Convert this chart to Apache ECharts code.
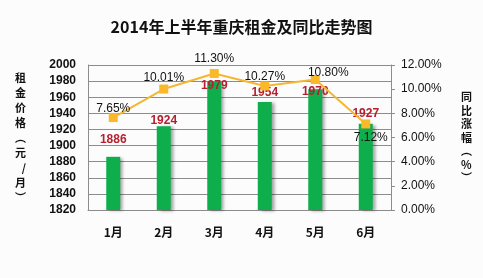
<!DOCTYPE html>
<html><head><meta charset="utf-8">
<script src="https://cdn.jsdelivr.net/npm/echarts@6/dist/echarts.min.js"></script>
<style>html,body{margin:0;padding:0;background:#fcfcfd;}#c{width:483px;height:278px;}</style>
</head><body><div id="c"></div>
<script>
var categories = ['1月','2月','3月','4月','5月','6月'];
var rentValues = [1886, 1924, 1979, 1954, 1970, 1927];
var yoyValues = [7.65, 10.01, 11.30, 10.27, 10.80, 7.12];
var leftTicks = [1820, 2000, 20];
var rightTicks = [0, 12, 2];

// label styling (offsets only, not data)
var barLabelDy = [-6, 5, 15, 2, 14, 1];
var lineLabelPos = ['top','top','top','top','top','bottom'];
var lineLabelDx = [0, 0, 0, 0, 13, 5];
var lineLabelDy = [5, 2, -1, 4, 7, 0];

var chart = echarts.init(document.getElementById('c'));
chart.setOption({
  backgroundColor: '#fcfcfd',
  animation: false,
  title: {
    text: '2014年上半年重庆租金及同比走势图',
    left: 'center', top: 14,
    textStyle: {fontFamily: 'Noto Sans CJK SC', fontSize: 16, fontWeight: 'bold', color: '#111'}
  },
  grid: {left: 88, right: 92, top: 65, bottom: 68},
  xAxis: {
    type: 'category', data: categories,
    axisLine: {lineStyle: {color: '#8c8c8c'}},
    axisTick: {show: false},
    axisLabel: {margin: 16, fontFamily: 'Noto Sans CJK SC', fontWeight: 'bold', fontSize: 12, color: '#111'}
  },
  yAxis: [{
    type: 'value', min: leftTicks[0], max: leftTicks[1], interval: leftTicks[2],
    name: '租\n金\n价\n格\n︵\n元\n/\n月\n︶',
    nameLocation: 'middle', nameGap: 62, nameRotate: 0,
    nameTextStyle: {fontFamily: 'Noto Sans CJK SC', fontWeight: 'bold', fontSize: 11, color: '#111', lineHeight: 15, padding: [22, 0, 0, 0]},
    axisLine: {show: true, lineStyle: {color: '#8c8c8c'}},
    axisTick: {show: false},
    splitLine: {lineStyle: {color: '#8c8c8c'}},
    axisLabel: {margin: 12, fontFamily: 'Liberation Sans', fontWeight: 'bold', fontSize: 12, color: '#111',
      formatter: function (v) { return String(v); }}
  }, {
    type: 'value', min: rightTicks[0], max: rightTicks[1], interval: rightTicks[2],
    name: '同\n比\n涨\n幅\n︵\n%\n︶',
    nameLocation: 'middle', nameGap: 70, nameRotate: 0,
    nameTextStyle: {fontFamily: 'Noto Sans CJK SC', fontWeight: 'bold', fontSize: 11, color: '#111', lineHeight: 13.5},
    axisLine: {show: true, lineStyle: {color: '#8c8c8c'}},
    axisTick: {show: true, length: 4, lineStyle: {color: '#8c8c8c'}},
    splitLine: {show: false},
    axisLabel: {margin: 10, fontFamily: 'Liberation Sans', fontSize: 12, color: '#111',
      formatter: function (v) { return v.toFixed(2) + '%'; }}
  }],
  series: [{
    type: 'bar', yAxisIndex: 0, barWidth: 14, z: 2,
    itemStyle: {color: '#0fae4d', shadowColor: 'rgba(0,0,0,0.35)', shadowOffsetX: 3, shadowOffsetY: 1, shadowBlur: 3},
    data: rentValues.map(function (v, i) {
      return {value: v, label: {show: true, position: 'top', distance: 5, offset: [0, barLabelDy[i]],
        fontFamily: 'Liberation Sans', fontWeight: 'bold', fontSize: 12, color: '#b5202e'}};
    })
  }, {
    type: 'line', yAxisIndex: 1, z: 3,
    symbol: 'rect', symbolSize: 9,
    lineStyle: {color: '#f5b731', width: 2},
    itemStyle: {color: '#fbb829'},
    data: yoyValues.map(function (v, i) {
      return {value: v, label: {show: true, position: lineLabelPos[i], distance: 3,
        offset: [lineLabelDx[i], lineLabelDy[i]],
        formatter: function (p) { return p.value.toFixed(2) + '%'; },
        fontFamily: 'Liberation Sans', fontSize: 12, color: '#111'}};
    })
  }]
});
</script></body></html>
